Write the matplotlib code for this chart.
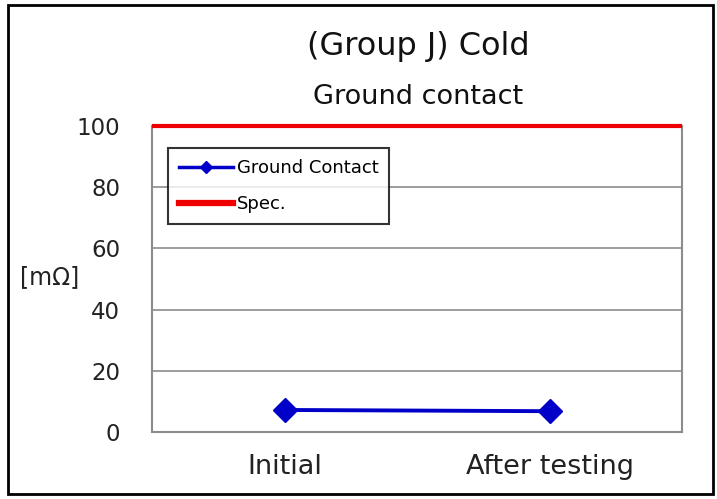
import matplotlib
matplotlib.use("Agg")
import matplotlib.pyplot as plt
from matplotlib.patches import Rectangle
from matplotlib.lines import Line2D

# data
categories = ["Initial", "After testing"]
ground_contact = [7.2, 6.8]
spec_limit = [100, 100]
y_ticks = [0, 20, 40, 60, 80, 100]

BLUE = "#0000C8"
RED = "#EE0000"
GRID = "#8C8C8C"

plt.rcParams["font.family"] = ["DejaVu Sans"]

fig = plt.figure(figsize=(7.17, 4.99), dpi=100)
ax = fig.add_axes([152 / 717, 1 - 432 / 499, 530 / 717, 306 / 499])

x = list(range(len(categories)))
ax.plot(x, ground_contact, color=BLUE, lw=2.8, marker="D", ms=12.5,
        label="Ground Contact", zorder=4)
ax.plot([-0.5, 1.5], spec_limit, color=RED, lw=3, label="Spec.",
        zorder=5, clip_on=False, solid_capstyle="butt")

ax.set_xlim(-0.5, 1.5)
ax.set_ylim(0, 100)
ax.set_yticks(y_ticks)
ax.set_xticks(x)
ax.set_xticklabels(categories)
ax.tick_params(axis="both", length=0, labelsize=16.5, colors="#222222")
ax.tick_params(axis="x", pad=16, labelsize=19.5)
ax.tick_params(axis="y", pad=23)
ax.yaxis.grid(True, color=GRID, lw=1.2)
ax.set_axisbelow(True)
for s in ax.spines.values():
    s.set_color(GRID)
    s.set_linewidth(1.5)

ax.set_ylabel("[mΩ]", fontsize=17, rotation=0, color="#222222",
              ha="left", va="center")
ax.yaxis.set_label_coords(-(152 - 20) / 530, (432 - 277) / 306)

fig.text(418 / 717, 1 - 47 / 499, "(Group J) Cold", fontsize=23,
         ha="center", va="center", color="#111111")
fig.text(418 / 717, 1 - 97 / 499, "Ground contact", fontsize=19.5,
         ha="center", va="center", color="#111111")

handles = [Line2D([], [], color=BLUE, lw=2.5, marker="D", ms=6),
           Line2D([], [], color=RED, lw=4.5)]
leg = ax.legend(handles, ["Ground Contact", "Spec."], loc="upper left",
                bbox_to_anchor=((168 - 152) / 530, (432 - 148) / 306),
                fontsize=13, frameon=True, fancybox=False,
                edgecolor="black", handlelength=3.0, handletextpad=0.2,
                borderpad=0.6, labelspacing=1.0, borderaxespad=0)
leg.get_frame().set_linewidth(1.5)

fig.patches.append(Rectangle((8 / 717, 1 - 494 / 499), 705 / 717, 489 / 499,
                             transform=fig.transFigure, fill=False,
                             edgecolor="black", lw=2))

fig.savefig("out.png", dpi=100)
